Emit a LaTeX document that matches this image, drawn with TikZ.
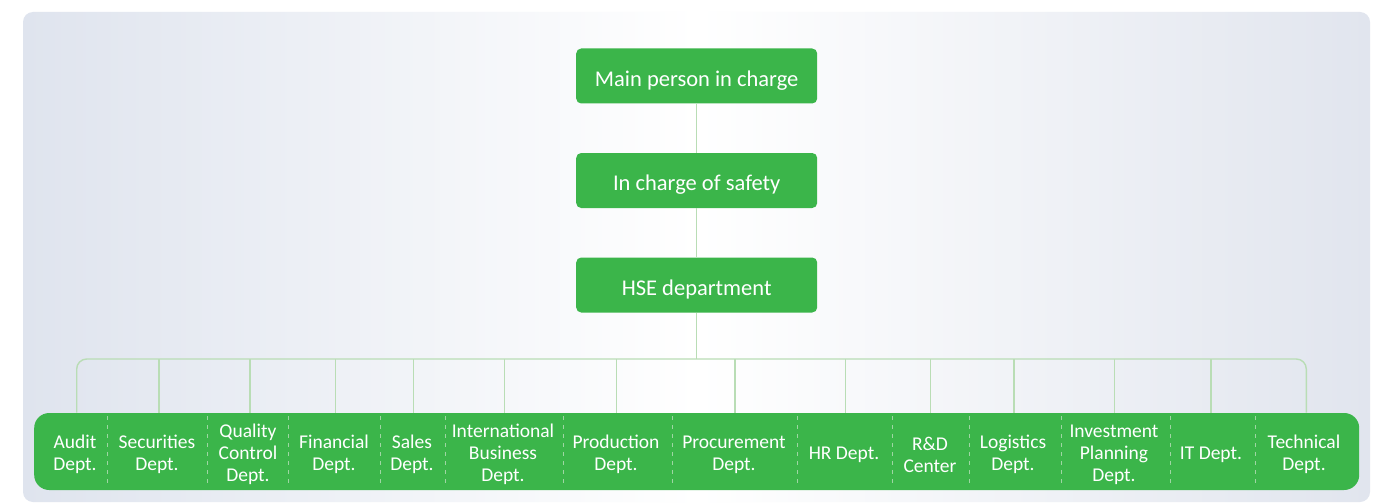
\documentclass[tikz,border=0pt]{standalone}
\usepackage{fontspec}
\setmainfont{Carlito}
\definecolor{boxgreen}{HTML}{3BB54A}
\definecolor{conncol}{HTML}{B9DDB5}
\definecolor{sepcol}{HTML}{9ED6A3}
\definecolor{bgleft}{HTML}{DFE4EE}
\definecolor{bgright}{HTML}{E1E5EE}
\tikzset{
  topbox/.style={draw=none, fill=boxgreen, rounded corners=5pt, minimum width=241pt, minimum height=55pt,
    text=white, font=\fontsize{22.5}{26}\selectfont, inner sep=0pt, text height=21pt, text depth=1pt},
  barbox/.style={draw=none, fill=boxgreen, rounded corners=15pt, minimum width=1325pt, minimum height=77pt, inner sep=0pt},
  dept/.style={text=white, align=center, font=\fontsize{19.5}{22}\selectfont, inner sep=0pt, yshift=-3pt},
  conn/.style={draw=conncol, line width=1.4pt},
  sep/.style={draw=sepcol, line width=1pt, dash pattern=on 4pt off 5pt}
}
\begin{document}
\begin{tikzpicture}[x=1pt, y=-1pt]
\useasboundingbox (0,0) rectangle (1377,503);
\fill[white] (0,0) rectangle (1377,503);
\shade[rounded corners=10pt, left color=bgleft, right color=bgright, middle color=white] (23,12) rectangle (1370,502);

\node[topbox] (main) at (696.7,76) {Main person in charge};
\node[topbox] (safety) at (696.7,180.5) {In charge of safety};
\node[topbox] (hse) at (696.7,285) {HSE department};
\draw[conn] (main) -- (safety);
\draw[conn] (safety) -- (hse);

\node[barbox] (bar) at (696.7,451.5) {};
\coordinate (bus) at (696.7,359);

\node[dept] (d1) at (75,451.5) {Audit\\Dept.};
\node[dept] (d2) at (157,451.5) {Securities\\Dept.};
\node[dept] (d3) at (248,451.5) {Quality\\Control\\Dept.};
\node[dept] (d4) at (334,451.5) {Financial\\Dept.};
\node[dept] (d5) at (412,451.5) {Sales\\Dept.};
\node[dept] (d6) at (503,451.5) {International\\Business\\Dept.};
\node[dept] (d7) at (616,451.5) {Production\\Dept.};
\node[dept] (d8) at (734,451.5) {Procurement\\Dept.};
\node[dept] (d9) at (844,451.5) {HR Dept.};
\node[dept] (d10) at (930,451.5) {R\&D\\Center};
\node[dept] (d11) at (1013,451.5) {Logistics\\Dept.};
\node[dept] (d12) at (1114,451.5) {Investment\\Planning\\Dept.};
\node[dept] (d13) at (1211,451.5) {IT Dept.};
\node[dept] (d14) at (1304,451.5) {Technical\\Dept.};

\coordinate (b1) at (76.7,412.7);
\coordinate (b14) at (1306.3,412.7);
\draw[conn] (hse) -- (bus);
\draw[conn, rounded corners=10pt] (b1) |- (bus) -| (b14);
\foreach \x in {159,250,335.3,413.3,504.3,616.7,735,845.3,930.7,1014,1114.3,1211}{
  \draw[conn] (\x,359) -- (\x,412.7);
}
\foreach \x in {107.7,207.7,288.7,380.7,445.3,563.7,672,797.7,892,969.3,1061,1170.7,1255.7}{
  \draw[sep] (\x,416) -- (\x,487);
}
\end{tikzpicture}
\end{document}
